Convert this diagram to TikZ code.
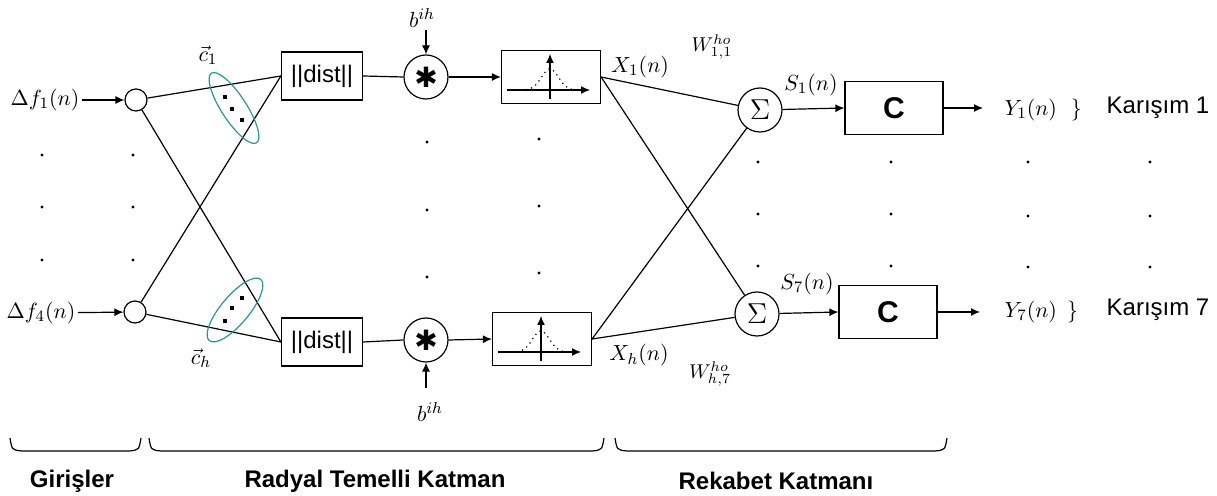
\documentclass[tikz,border=0pt]{standalone}
\usepackage{fontspec}
\usepackage{amsmath}
\usetikzlibrary{arrows.meta,positioning}
\usetikzlibrary{shapes.geometric}
\newfontfamily\arial{Liberation Sans}
\newfontfamily\dejavu{DejaVu Sans}
\definecolor{ellcol}{RGB}{40,150,150}

\begin{document}
\begin{tikzpicture}[
    x=0.5pt, y=-0.5pt,
    line width=0.6pt,
    >={Latex[length=4.5pt,width=4pt]},
    innode/.style={circle,draw,minimum size=11pt,inner sep=0pt},
    opnode/.style={circle,draw,minimum size=22pt,inner sep=0pt},
    blockbox/.style={draw,rectangle,inner sep=0pt},
    distbox/.style={blockbox,minimum width=40.5pt,minimum height=24pt,font=\arial\fontsize{12}{14}\selectfont},
    rbfbox/.style={blockbox,minimum width=49.5pt,minimum height=26.5pt},
    outbox/.style={blockbox,minimum width=49pt,minimum height=26.5pt,font=\arial\bfseries\fontsize{15}{16}\selectfont},
    grp/.style={draw=ellcol,ellipse,inner sep=0pt},
    lbl/.style={inner sep=1pt,font=\fontsize{11}{13}\selectfont},
    wlbl/.style={inner sep=0pt,font=\fontsize{10}{12}\selectfont},
    txt/.style={font=\arial\fontsize{12}{14}\selectfont},
    layer/.style={font=\arial\bfseries\fontsize{12}{14}\selectfont},
]

\useasboundingbox (0,0) rectangle (1217,496);

% =====================================================
% Inputs
% =====================================================

\node[innode] (in1) at (136,100) {};
\node[innode] (in4) at (135,312) {};

\node[lbl] (df1) at (45,100) {$\Delta f_1(n)$};
\node[lbl] (df4) at (41,313) {$\Delta f_4(n)$};

\draw[->] (df1) -- (in1);
\draw[->] (df4) -- (in4);

% =====================================================
% Radial basis layer
% =====================================================

\node[distbox] (dist1) at (322,76) {||dist||};
\node[distbox] (disth) at (322,342) {||dist||};

\draw (in1) -- (dist1.west);
\draw (in1) -- (disth.west);
\draw (in4) -- (dist1.west);
\draw (in4) -- (disth.west);

\node[grp,minimum width=41.5pt,minimum height=12.5pt,rotate=-57] (grp1) at (234,108) {};
\node[grp,minimum width=40pt,minimum height=14pt,rotate=50] (grph) at (235,310) {};

\foreach \x/\y in {225/97,232/109,242/120,225/321,232/308,242/298}
    \fill (\x-1.6,\y-1.6) rectangle ++(3.2,3.2);

\node[lbl] (c1) at (208,55) {$\vec{c}_1$};
\node[lbl] (ch) at (201,358) {$\vec{c}_h$};

\node[opnode] (mul1) at (426,77) {\dejavu\fontsize{14}{14}\selectfont ✱};
\node[opnode] (mulh) at (426,340) {\dejavu\fontsize{14}{14}\selectfont ✱};

\node[lbl] (b1) at (422,18) {$b^{ih}$};
\node[lbl] (bh) at (430,412) {$b^{ih}$};

\draw[->] (b1.south -| mul1.north) -- (mul1.north);
\draw[->] ([yshift=6pt]bh.north -| mulh.south) -- (mulh.south);

\node[rbfbox] (rbf1) at (551,77) {};
\node[rbfbox] (rbfh) at (542,339) {};

\draw (dist1.east) -- (mul1.west);
\draw (disth.east) -- (mulh.west);
\draw[->] (mul1.east) -- (rbf1.west);
\draw[->] (mulh.east) -- (rbfh.west);

% gaussian symbol in the boxes
\foreach \b in {rbf1,rbfh} {
\begin{scope}[shift={(\b.center)}]
    \draw[->] (-44,13) -- (39,13);
    \draw[->] (-1,22) -- (-1,-23);
    \draw[dotted] plot[domain=-25:23,samples=40,smooth]
        (\x,{13-21*exp(-(((\x+1)/12)^2))});
\end{scope}
}

% =====================================================
% Competitive layer
% =====================================================

\node[opnode,font=\fontsize{14}{16}\selectfont] (sum1) at (760,110) {$\Sigma$};
\node[opnode,font=\fontsize{14}{16}\selectfont] (sum7) at (757,314) {$\Sigma$};

\draw (rbf1.east) -- (sum1);
\draw (rbf1.east) -- (sum7);
\draw (rbfh.east) -- (sum1);
\draw (rbfh.east) -- (sum7);

\node[lbl] (x1) at (640,67) {$X_1(n)$};
\node[lbl] (xh) at (639,355) {$X_h(n)$};
\node[wlbl] (w11) at (712,47) {$W^{ho}_{1,1}$};
\node[wlbl] (wh7) at (710,374) {$W^{ho}_{h,7}$};
\node[lbl] (s1) at (811,85) {$S_1(n)$};
\node[lbl] (s7) at (807,284) {$S_7(n)$};

\node[outbox] (out1) at (894,108) {C};
\node[outbox] (out7) at (888,312) {C};

\draw[->] (sum1) -- (out1.west);
\draw[->] (sum7) -- (out7.west);

\coordinate (y1) at (983,108);
\coordinate (y7) at (980,312);

\draw[->] (out1.east) -- (y1);
\draw[->] (out7.east) -- (y7);

\node[lbl,anchor=west] (ylab1) at (1002,110) {$Y_1(n)$\hspace{7pt}$\}$};
\node[lbl,anchor=west] (ylab7) at (1002,312) {$Y_7(n)$\hspace{5pt}$\}$};

\node[txt] (mix1) at (1158,108) {Karışım 1};
\node[txt] (mix7) at (1158,310) {Karışım 7};

% vertical dots
\foreach \x/\ya/\yb/\yc in {42/155/207/260, 133/155/207/260, 427/142/210/277,
        539/139/206/273, 758/162/214/266, 891/162/214/266,
        1028/162/216/267, 1150/162/216/267}
    \foreach \y in {\ya,\yb,\yc}
        \fill (\x,\y) circle (1.6);

% =====================================================
% Layer braces
% =====================================================

\foreach \a/\b in {10/141,149/604,615/947}
    \draw (\a,438) .. controls (\a+2,450) .. (\a+12,451)
        -- (\b-12,451) .. controls (\b-2,450) .. (\b,438);

\node[layer] (lay1) at (72,481) {Girişler};
\node[layer] (lay2) at (375,481) {Radyal Temelli Katman};
\node[layer] (lay3) at (776,481) {Rekabet Katmanı};

\end{tikzpicture}
\end{document}
